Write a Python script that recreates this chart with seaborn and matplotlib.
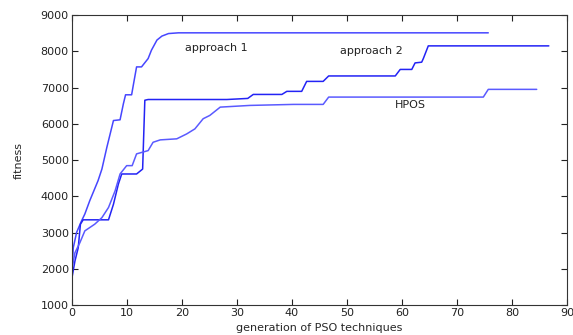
import seaborn as sns
import matplotlib.pyplot as plt

sns.set_style("ticks")
plt.rcParams['font.family'] = ['DejaVu Sans']

# approach 1
a1_x = [0, 0.3, 0.9, 1.8, 2.4, 3.3, 4.8, 5.5, 6.4, 7.0, 7.6, 8.8, 9.4, 9.8, 10.9,
        11.2, 11.8, 12.7, 13.9, 14.5, 15.5, 16.4, 17.6, 19.4, 75.7]
a1_y = [1750, 2580, 3000, 3320, 3510, 3880, 4430, 4750, 5350, 5720, 6090, 6110, 6550, 6800, 6800,
        7060, 7570, 7570, 7800, 8030, 8310, 8420, 8490, 8510, 8510]

# approach 2
a2_x = [0, 0.6, 1.2, 1.6, 2.1, 6.7, 7.6, 8.5, 9.1, 11.8, 12.9, 13.3, 13.9, 28.2, 32.0,
        33.0, 38.2, 39.1, 41.8, 42.7, 45.7, 46.7, 58.8, 59.7, 61.8, 62.4, 63.6, 63.9,
        64.8, 86.7]
a2_y = [1700, 2210, 2580, 3230, 3350, 3350, 3780, 4340, 4615, 4615, 4750, 6650, 6670, 6670, 6700,
        6810, 6810, 6895, 6895, 7170, 7170, 7320, 7320, 7500, 7500, 7680, 7700, 7800,
        8150, 8150]

# HPOS
hp_x = [0, 0.6, 1.5, 2.4, 4.2, 5.5, 6.7, 7.9, 8.8, 10.0, 11.0, 11.8, 13.9, 14.8, 16.1,
        19.1, 20.9, 22.4, 23.9, 25.1, 27.0, 32.4, 40.3, 45.7, 46.7, 74.8, 75.7, 84.5]
hp_y = [1940, 2440, 2720, 3045, 3230, 3410, 3690, 4150, 4615, 4845, 4845, 5170, 5260, 5490, 5556,
        5585, 5720, 5860, 6140, 6230, 6460, 6507, 6535, 6535, 6737, 6737, 6950, 6950]

labels = ["approach 1", "approach 2", "HPOS"]
label_pos = [(20.6, 8090), (48.8, 8000), (58.7, 6520)]

fig = plt.figure(figsize=(5.73, 3.35), dpi=100)
ax = fig.add_axes([0.125, 0.0896, 0.8645, 0.8654])

sns.lineplot(x=a1_x, y=a1_y, sort=False, color='#4646ff', lw=1.1, ax=ax)
sns.lineplot(x=a2_x, y=a2_y, sort=False, color='#2323f5', lw=1.1, ax=ax)
sns.lineplot(x=hp_x, y=hp_y, sort=False, color='#5a5aff', lw=1.1, ax=ax)

for lab, (tx, ty) in zip(labels, label_pos):
    ax.text(tx, ty, lab, fontsize=8, va='center', ha='left', color='#222222')

ax.set_xlim(0, 90)
ax.set_ylim(1000, 9000)
ax.set_xticks(range(0, 91, 10))
ax.set_yticks(range(1000, 9001, 1000))
ax.tick_params(direction='in', top=True, right=True, labelsize=8, length=4, width=0.8,
               colors='#222222', pad=2)
for s in ax.spines.values():
    s.set_linewidth(0.8)
    s.set_color('#333333')
ax.set_xlabel("generation of PSO techniques", fontsize=8, labelpad=4)
ax.set_ylabel("fitness", fontsize=8, labelpad=12)

fig.savefig("out.png", dpi=100)
